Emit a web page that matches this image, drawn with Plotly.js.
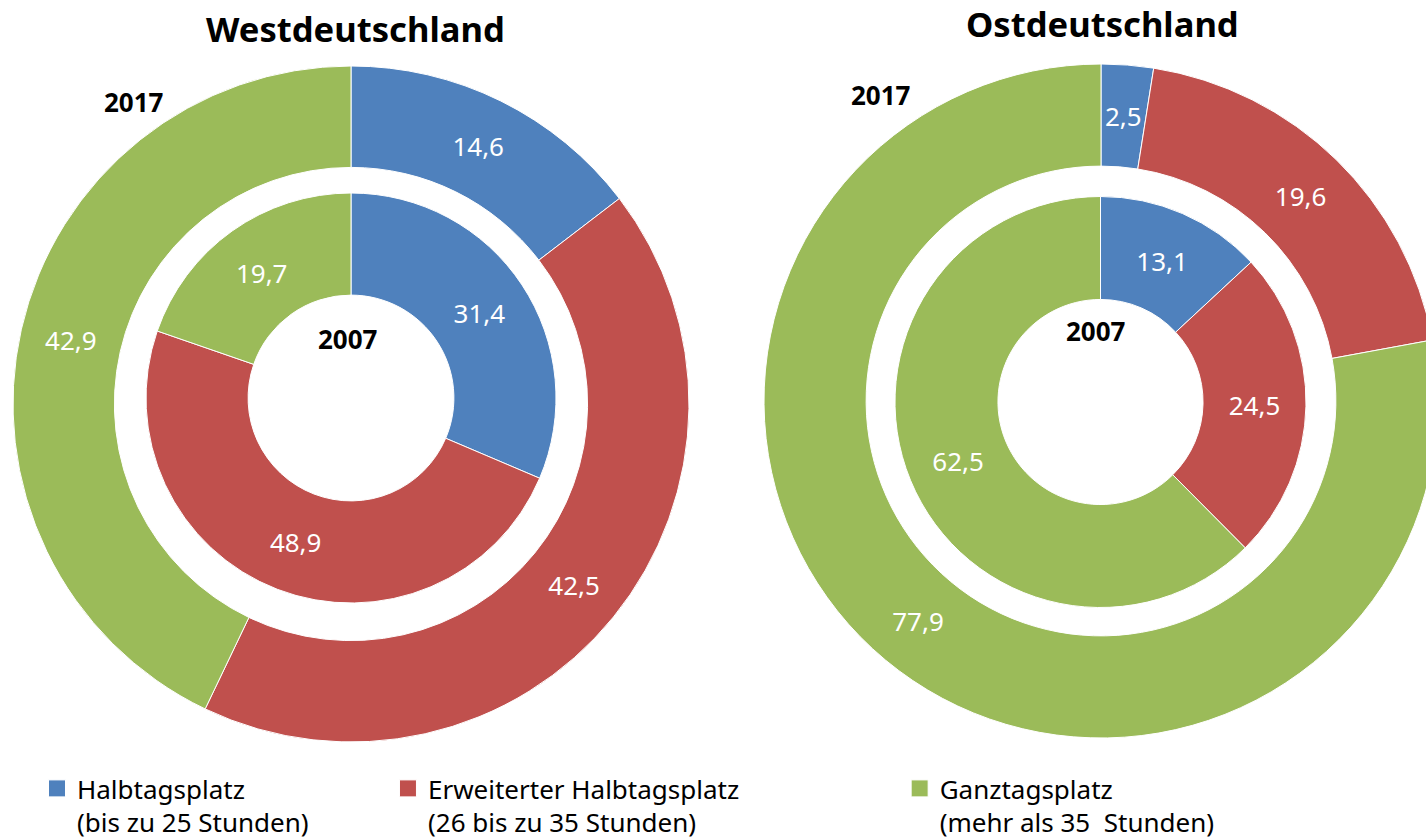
<!DOCTYPE html>
<html>
<head>
<meta charset="utf-8">
<script src="https://cdn.plot.ly/plotly-3.0.1.min.js"></script>
<style>
  html, body { margin: 0; padding: 0; overflow: hidden; background: #ffffff; }
  #chart { width: 1440px; height: 839px; }
</style>
</head>
<body>
<div id="chart"></div>
<script>
// ---------- data ----------
const categories = ['Halbtagsplatz', 'Erweiterter Halbtagsplatz', 'Ganztagsplatz'];
const categoryNotes = ['(bis zu 25 Stunden)', '(26 bis zu 35 Stunden)', '(mehr als 35  Stunden)'];
const west2017 = [14.6, 42.5, 42.9];
const west2007 = [31.4, 48.9, 19.7];
const east2017 = [2.5, 19.6, 77.9];
const east2007 = [13.1, 24.5, 62.5];
const regionTitles = ['Westdeutschland', 'Ostdeutschland'];
const yearLabels = ['2017', '2007'];
const colors = ['#4F81BD', '#C0504D', '#9BBB59'];

// ---------- layout helpers ----------
const W = 1440, H = 839;
const FONT = '"Noto Sans", "Open Sans", sans-serif';
function dom(g) {
  return { x: [(g.cx - g.r) / W, (g.cx + g.r) / W], y: [1 - (g.cy + g.r) / H, 1 - (g.cy - g.r) / H] };
}
// ring geometry (pixel centre, outer radius, hole fraction)
const geoms = {
  west17: { cx: 351, cy: 404, r: 338, hole: 0.700 },
  west07: { cx: 351, cy: 398, r: 205, hole: 0.502 },
  east17: { cx: 1101, cy: 401, r: 337, hole: 0.697 },
  east07: { cx: 1100.5, cy: 402, r: 205.5, hole: 0.499 }
};

// legend labels, padded so entries sit where the reference puts them
const ctx = document.createElement('canvas').getContext('2d');
ctx.font = '26px "Noto Sans"';
const nb = '\u00A0';
const nbW = ctx.measureText(nb).width || 6.8;
const targetTextW = [309, 467, 0];
const legendLabels = categories.map((c, i) => {
  const w1 = ctx.measureText(c).width;
  const w2 = ctx.measureText(categoryNotes[i].replace(/  /g, ' ')).width;
  const n = targetTextW[i] ? Math.max(0, Math.round((targetTextW[i] - Math.max(w1, w2)) / nbW)) : 0;
  return w1 >= w2 ? c + nb.repeat(n) + '<br>' + categoryNotes[i]
                  : c + '<br>' + categoryNotes[i] + nb.repeat(n);
});

const SMALL = 5; // slices below this share get their label at the ring middle (as in the reference)
function ring(values, g, showlegend) {
  const total = values.reduce((a, b) => a + b, 0);
  return {
    type: 'pie',
    labels: legendLabels,
    values: values,
    domain: dom(g),
    hole: g.hole,
    sort: false,
    direction: 'clockwise',
    rotation: 0,
    marker: { colors: colors, line: { color: '#ffffff', width: 1 } },
    texttemplate: values.map(v => (v / total * 100 < SMALL ? '' : '%{value:.1f}')),
    textposition: 'inside',
    insidetextorientation: 'horizontal',
    textfont: { family: FONT, size: 26, color: '#ffffff' },
    hoverinfo: 'label+value',
    showlegend: showlegend
  };
}
// labels for narrow slices, placed at the angular/radial middle of their slice
function smallLabels(values, g) {
  const total = values.reduce((a, b) => a + b, 0);
  const out = [];
  let cum = 0;
  values.forEach(v => {
    const share = v / total;
    if (share * 100 < SMALL) {
      const ang = (cum + share / 2) * 2 * Math.PI;
      const rm = g.r * (1 + g.hole) / 2;
      out.push({
        text: v.toFixed(1).replace('.', ','),
        x: (g.cx + rm * Math.sin(ang)) / W, y: 1 - (g.cy - rm * Math.cos(ang)) / H,
        xref: 'paper', yref: 'paper', xanchor: 'center', yanchor: 'middle', showarrow: false,
        font: { family: FONT, size: 26, color: '#ffffff' }
      });
    }
    cum += share;
  });
  return out;
}

const data = [
  ring(west2017, geoms.west17, true),
  ring(west2007, geoms.west07, false),
  ring(east2017, geoms.east17, false),
  ring(east2007, geoms.east07, false)
];

function ann(text, px, py, size, bold) {
  return {
    text: bold ? '<b>' + text + '</b>' : text,
    x: px / W, y: 1 - py / H, xref: 'paper', yref: 'paper',
    xanchor: 'center', yanchor: 'middle', showarrow: false,
    font: { family: FONT, size: size, color: '#000000' }
  };
}

const layout = {
  width: W, height: H,
  margin: { l: 0, r: 0, t: 0, b: 0, autoexpand: false },
  paper_bgcolor: '#ffffff',
  plot_bgcolor: '#ffffff',
  separators: ',.',
  uniformtext: { mode: 'show', minsize: 26 },
  showlegend: true,
  legend: {
    orientation: 'h',
    x: 37 / W, xanchor: 'left',
    y: 1 - 765 / H, yanchor: 'top',
    valign: 'top',
    traceorder: 'normal',
    font: { family: FONT, size: 26, color: '#000000' },
    bgcolor: 'rgba(0,0,0,0)'
  },
  annotations: [
    ann(regionTitles[0], 355, 29, 34.6, true),
    ann(regionTitles[1], 1102, 24, 34.6, true),
    ann(yearLabels[0], 134, 102, 26, true),
    ann(yearLabels[0], 881, 95, 26, true),
    ann(yearLabels[1], 348, 339, 26, true),
    ann(yearLabels[1], 1096, 331, 26, true)
  ].concat(
    smallLabels(west2017, geoms.west17),
    smallLabels(west2007, geoms.west07),
    smallLabels(east2017, geoms.east17),
    smallLabels(east2007, geoms.east07)
  )
};

function bigSwatches(gd) {
  // larger legend swatches, as in the reference
  gd.querySelectorAll('.legend .legendpoints path').forEach(p => p.setAttribute('d', 'M8.5,8.5H-8.5V-8.5H8.5Z'));
}
Plotly.newPlot('chart', data, layout, { displayModeBar: false, staticPlot: true }).then(gd => {
  bigSwatches(gd);
  gd.on('plotly_afterplot', () => bigSwatches(gd));
  setTimeout(() => bigSwatches(gd), 50);
});
</script>
</body>
</html>
